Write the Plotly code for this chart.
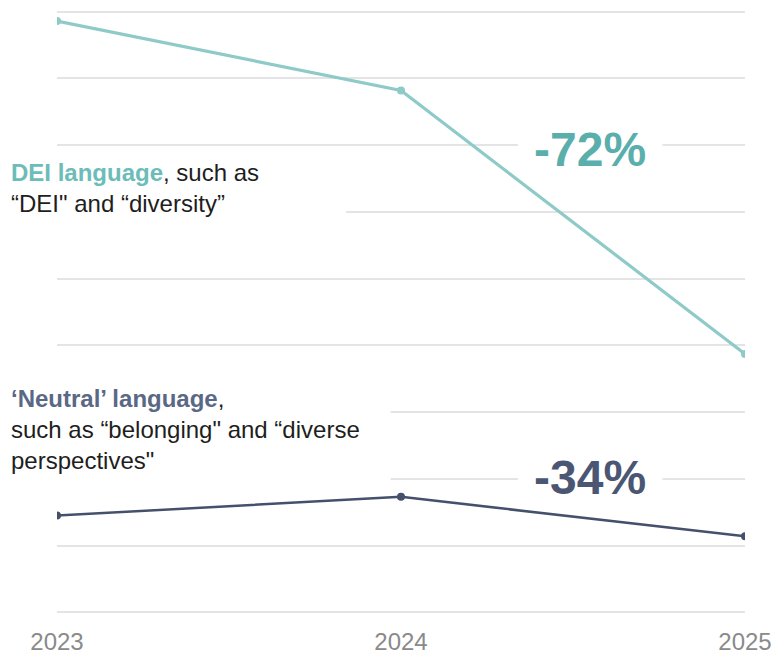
import plotly.graph_objects as go

years = [2023, 2024, 2025]
dei_values = [8.86, 7.82, 3.87]
neutral_values = [1.45, 1.73, 1.14]
dei_change = "-72%"
neutral_change = "-34%"

DEI_LINE = "#8ecac8"
DEI_TEXT = "#6cbcb9"
DEI_BIG = "#5aaeab"
NEU_LINE = "#44506c"
NEU_TEXT = "#5a6886"
NEU_BIG = "#4a5674"
FONT = "Liberation Sans, Arial, sans-serif"

fig = go.Figure()
fig.add_trace(go.Scatter(x=years, y=dei_values, mode="lines+markers",
                         line=dict(color=DEI_LINE, width=3.2),
                         marker=dict(color=DEI_LINE, size=8), showlegend=False))
fig.add_trace(go.Scatter(x=years, y=neutral_values, mode="lines+markers",
                         line=dict(color=NEU_LINE, width=2.5),
                         marker=dict(color=NEU_LINE, size=8), showlegend=False))

# white masks that break gridlines behind the labels (drawn between grid and traces)
masks = [
    (2023.0, 2023.84, 5.8, 6.2),    # behind DEI description
    (2023.0, 2023.97, 1.85, 3.15),  # behind neutral description
    (2024.34, 2024.76, 6.8, 7.2),   # behind -72%
    (2024.34, 2024.76, 1.85, 2.15), # behind -34%
]
for x0, x1, y0, y1 in masks:
    fig.add_shape(type="rect", xref="x", yref="y", x0=x0, x1=x1, y0=y0, y1=y1,
                  fillcolor="white", line=dict(width=0), layer="between")

fig.add_annotation(
    xref="paper", yref="y", x=-0.0705, y=6.36, xanchor="left", yanchor="middle",
    text=f"<b><span style='color:{DEI_TEXT}'>DEI language</span></b>, such as<br>“DEI\" and “diversity”",
    align="left", showarrow=False, width=335, borderpad=2,
    font=dict(family=FONT, size=24, color="#1e1e1e"))
fig.add_annotation(
    xref="paper", yref="y", x=-0.0705, y=2.74, xanchor="left", yanchor="middle",
    text=f"<b><span style='color:{NEU_TEXT}'>‘Neutral’ language</span></b>,<br>such as “belonging\" and “diverse<br>perspectives\"",
    align="left", showarrow=False, width=380, borderpad=2,
    font=dict(family=FONT, size=24, color="#1e1e1e"))
fig.add_annotation(
    xref="x", yref="y", x=2024.55, y=6.94, xanchor="center", yanchor="middle",
    text=f"<b>{dei_change}</b>", showarrow=False,
    font=dict(family=FONT, size=48, color=DEI_BIG))
fig.add_annotation(
    xref="x", yref="y", x=2024.55, y=2.02, xanchor="center", yanchor="middle",
    text=f"<b>{neutral_change}</b>", showarrow=False,
    font=dict(family=FONT, size=48, color=NEU_BIG))

fig.update_layout(
    width=782, height=665,
    margin=dict(l=57, r=30, t=10, b=37),
    paper_bgcolor="white", plot_bgcolor="white",
    font=dict(family=FONT),
    xaxis=dict(range=[2023, 2025], tickvals=years, ticktext=[str(y) for y in years],
               showgrid=False, zeroline=False, showline=False,
               tickfont=dict(size=24, color="#8a8a8a"), ticks="", ticklabelstandoff=11,
               ticklabeloverflow="allow"),
    yaxis=dict(range=[-0.025, 9.025], dtick=1, tick0=0, showticklabels=False,
               showgrid=True, gridcolor="#e4e4e4", gridwidth=1.5,
               zeroline=False, showline=False, ticks=""),
)
fig.write_html("out.html", config={"displayModeBar": False},
               post_script="document.body.style.margin='0';document.body.style.overflow='hidden';")
